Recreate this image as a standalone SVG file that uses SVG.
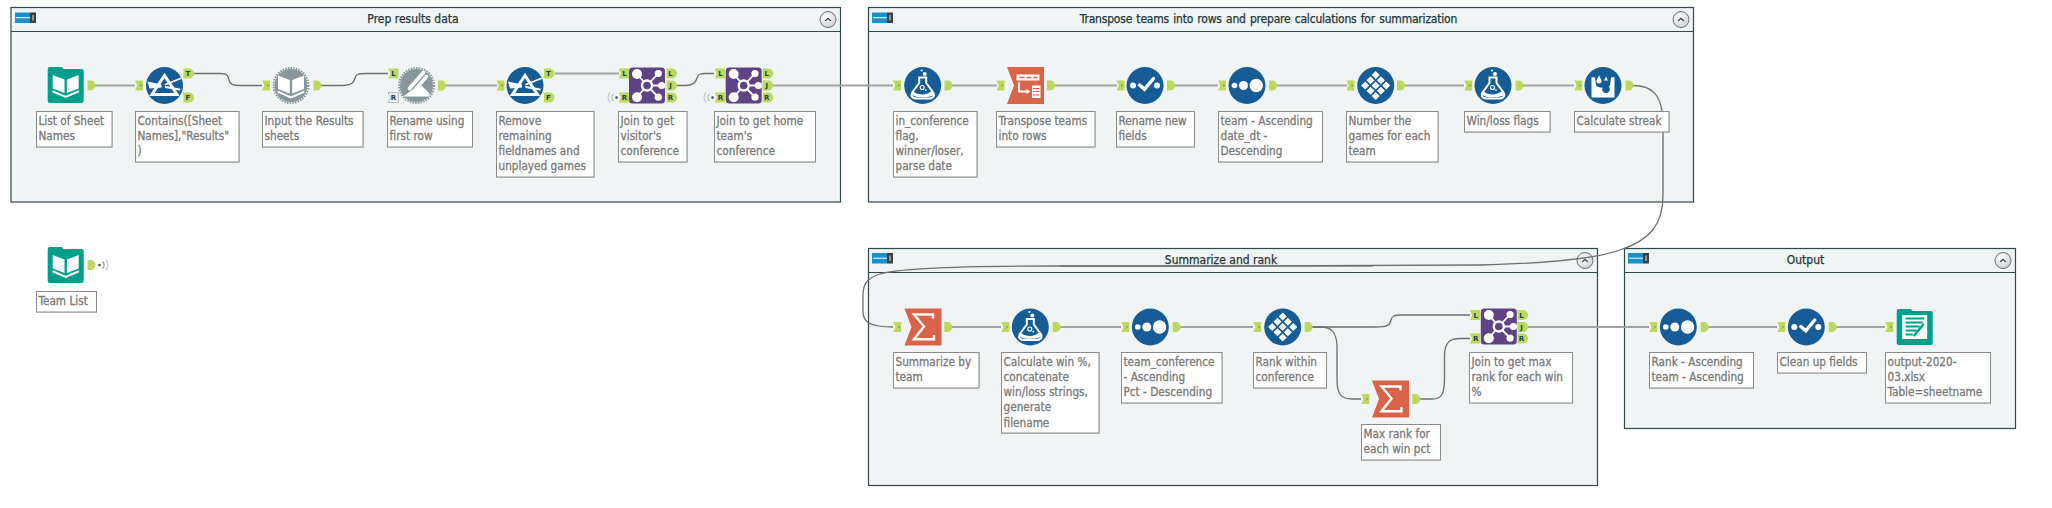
<svg xmlns="http://www.w3.org/2000/svg" xmlns:xlink="http://www.w3.org/1999/xlink" width="2052" height="508" viewBox="0 0 2052 508">
<style>
.c{fill:#f1f4f5;stroke:#2f4a4c;stroke-width:1.2}
.h{stroke:#2f4a4c;stroke-width:1.2;fill:none}
.ct{font-family:"DejaVu Sans Condensed","DejaVu Sans",sans-serif;font-stretch:condensed;font-size:12px;fill:#22363b;stroke:#22363b;stroke-width:.25;text-anchor:middle}
.b{fill:#fff;stroke:#8a8a8a;stroke-width:1;filter:drop-shadow(.6px .8px 0 #b5b5b5)}
.t{font-family:"DejaVu Sans Condensed","DejaVu Sans",sans-serif;font-stretch:condensed;font-size:11.7px;fill:#7a7a7a;stroke:#7a7a7a;stroke-width:.3}
.s{fill:none;stroke:#a3a3a3;stroke-width:2}
.k{fill:none;stroke:#6e6e6e;stroke-width:1.3}
.g{fill:#bbd95f}
.l{font:700 7px "DejaVu Sans",sans-serif;fill:#23404a;text-anchor:middle}
.w{fill:#fff}
.wl{fill:none;stroke:#fff;stroke-linecap:round}
</style>
<defs>
<radialGradient id="btn" cx=".4" cy=".35" r=".8"><stop offset="0" stop-color="#fff"/><stop offset="1" stop-color="#c6c8cb"/></radialGradient>
<g id="hdr"><rect width="15" height="10.5" fill="#1b8fc9"/><rect x="15" width="6" height="10.5" fill="#3d3f42"/><path d="M1,5.2H15" stroke="#fff" fill="none"/><path d="M18,2.5V8" stroke="#aaa" stroke-width="1.6" fill="none"/></g>
<g id="col"><circle r="8" fill="url(#btn)" stroke="#6b6f72"/><path d="M-3.5,1.2L0,-2L3.5,1.2L2.2,1.8L0,-.2L-2.2,1.8Z" fill="#33444a"/></g>
<g id="ai"><path class="g" d="M0,-5H8V5H0L2.2,0Z"/><path d="M5,-1.6L7.2,0L5,1.6Z" fill="#8d9e5a"/></g>
<g id="ao"><path class="g" d="M0,-5H4.5Q8,-3 8,0Q8,3 4.5,5H0Z"/></g>
<path id="li" class="g" d="M0,-5H10.5V5H0L2.5,0Z"/>
<path id="lo" class="g" d="M0,-5H7Q10.5,-3 10.5,0Q10.5,3 7,5H0Z"/>
<g id="wl"><path d="M-6.5,-5A8,8 0 0 0 -6.5,5" fill="none" stroke="#c4cccc" stroke-width="1.4"/><path d="M-3.2,-3.4A5,5 0 0 0 -3.2,3.4" fill="none" stroke="#aab4b4" stroke-width="1.2"/><circle r="1.2" fill="#33444a"/></g>
<g id="wr"><path d="M6.5,-5A8,8 0 0 1 6.5,5" fill="none" stroke="#c4cccc" stroke-width="1.4"/><path d="M3.2,-3.4A5,5 0 0 1 3.2,3.4" fill="none" stroke="#7f8c8c" stroke-width="1.2"/><circle r="1.2" fill="#33444a"/></g>
<path id="folder" fill="#009f8b" d="M-18,-16Q-18,-18 -16,-18H-4L-2,-16H16Q18,-16 18,-14V16Q18,18 16,18H-16Q-18,18 -18,16Z"/>
<g id="open"><path class="w" d="M-13,-10L-1.2,-5.5V8L-13,3.5Z"/><path class="w" d="M13,-10L1.2,-5.5V8L13,3.5Z"/><path class="wl" stroke-width="2" d="M-12.5,6.5L0,12L12.5,6.5"/></g>
<g id="book"><use href="#folder"/><use href="#open"/></g>
<g id="gear"><circle r="16.5" fill="#87979b"/><circle r="17.4" fill="none" stroke="#87979b" stroke-width="2.2" stroke-dasharray="1.5 1.2"/></g>
<g id="filter"><circle r="18.5" fill="#165c96"/><path d="M0,-10L12.5,9H-12.5Z" fill="none" stroke="#fff" stroke-width="3"/><path class="w" d="M-17,-4L-3,-1L-3,2L-15,3Z"/><path class="wl" stroke-width="1.8" d="M1,-1L16,-7M1,1.5L15,4"/></g>
<g id="input"><use href="#gear"/><use href="#open"/></g>
<g id="rename"><use href="#gear"/><path class="wl" stroke-width="3.6" d="M-7,3L7,-13M-2,5L10,-9"/><path class="w" d="M-12,10L-4,4C0,5 3,2 5,0L13,8V11H-12Z"/></g>
<g id="join"><rect x="-18" y="-18" width="36" height="36" rx="3.5" fill="#5f4385"/><path class="wl" stroke-width="1.8" d="M-10,-11.5L0,0M11.3,-12L0,0M14.7,0H0M11.3,11.7L0,0M-10,11.7L0,0"/><circle r="5" fill="#5f4385" stroke="#fff" stroke-width="2.4"/><circle class="w" cx="-10" cy="-11.5" r="5"/><circle class="w" cx="-10" cy="11.7" r="5"/><circle class="w" cx="11.3" cy="-12" r="3.6"/><circle class="w" cx="14.7" r="3.6"/><circle class="w" cx="11.3" cy="11.7" r="3.6"/></g>
<g id="formula"><circle r="18.5" fill="#165c96"/><circle class="w" cx="-1" cy="-15" r="1.1"/><circle class="w" cx="2" cy="-11.5" r="2"/><path fill="none" stroke="#fff" stroke-width="2" d="M-3.5,-8H3.5V-2.5L10.5,7C12.5,11 10,13 6,13H-6C-10,13 -12.5,11 -10.5,7L-3.5,-2.5Z"/><path class="w" d="M-9.5,6C-4,10 4,10 9.5,5L11,9C9,12.5 -8,13 -10.5,9Z"/><circle cx="-.5" cy="2" r="2" fill="none" stroke="#fff" stroke-width="1.1"/><circle class="w" cx="3" cy="4.6" r=".9"/></g>
<path id="chev" fill="#d9644a" d="M-18.5,-18.5H18.5V18.5H-18.5L-11.5,0Z"/>
<g id="transpose"><use href="#chev"/><rect class="w" x="-9" y="-11" width="23" height="6"/><path d="M-6,-8H-1M1,-8H6M8,-8H12" stroke="#d9644a" stroke-width="1.5" fill="none"/><path class="wl" stroke-width="1.8" d="M-6.5,-2.5V6H2"/><path class="w" d="M1,3.5L5,6L1,8.5Z"/><rect class="w" x="6.5" y="0" width="8.5" height="12.5"/><path d="M7.5,3H14M7.5,6H14M7.5,9.5H14" stroke="#d9644a" stroke-width="1.2" fill="none"/></g>
<g id="select"><circle r="18.5" fill="#165c96"/><circle class="w" cx="-12" r="3"/><circle class="w" cx="12" r="3"/><path class="wl" stroke-width="3.4" d="M-5.5,-.5L-.5,3.8L8.5,-7"/></g>
<g id="sort"><circle r="18.5" fill="#165c96"/><circle class="w" cx="-12.5" r="2.8"/><circle class="w" cx="-3.5" r="4.5"/><circle class="w" cx="9.3" r="6.7"/></g>
<g id="record"><circle r="18.5" fill="#165c96"/><path class="w" d="M0,-14.5L4,-10.5L0,-6.5L-4,-10.5ZM-5.2,-9.3L-1.2,-5.3L-5.2,-1.3L-9.2,-5.3ZM5.2,-9.3L9.2,-5.3L5.2,-1.3L1.2,-5.3ZM-10.5,-4L-6.5,0L-10.5,4L-14.5,0ZM0,-4L4,0L0,4L-4,0ZM10.5,-4L14.5,0L10.5,4L6.5,0ZM-5.2,1.3L-1.2,5.3L-5.2,9.3L-9.2,5.3ZM5.2,1.3L9.2,5.3L5.2,9.3L1.2,5.3ZM0,6.5L4,10.5L0,14.5L-4,10.5Z"/></g>
<g id="multi"><circle r="18.5" fill="#165c96"/><path class="w" d="M-11.5,-8.5L-8,-8L-7,0C-4,3 4,3 7,0L8,-8L11.5,-8.5V12H-11.5Z"/><path class="w" d="M-4,-10L-1.6,-5.5A2.6,2.6 0 1 1 -6.4,-5.5Z"/><path fill="#165c96" d="M3,-5L6.5,2A3.9,3.9 0 1 1 -.5,2Z"/><path class="w" d="M3,-9L5,-5H1Z"/></g>
<g id="sum"><use href="#chev"/><path fill="none" stroke="#fff" stroke-width="2.4" stroke-miterlimit="8" d="M10,-8.5V-12.5H-9L1,-.5L-9,12.3H11V8"/></g>
<g id="output"><use href="#folder"/><rect class="w" x="-12.5" y="-12" width="25" height="24"/><path d="M-9,-8.5H9.5M-9,-4.5H8M-9,-.5H5M-9,3.5H2M-9,7.5H-2" stroke="#009f8b" stroke-width="2" fill="none"/><path d="M-1,9L9,-3" stroke="#009f8b" stroke-width="2.4" fill="none"/></g>
</defs>
<rect width="2052" height="508" fill="#fff"/>

<g id="container-prep">
<rect class="c" x="11" y="7.5" width="829.5" height="194.5"/><path class="h" d="M11,31.5H840.5"/>
<use href="#hdr" x="15" y="12.5"/><use href="#col" x="828" y="19.5"/>
<text class="ct" x="413" y="23">Prep results data</text>
</g>
<g id="container-transpose">
<rect class="c" x="868.5" y="7.5" width="825" height="194.5"/><path class="h" d="M868.5,31.5H1693.5"/>
<use href="#hdr" x="872" y="12.5"/><use href="#col" x="1681" y="19.5"/>
<text class="ct" x="1268.5" y="23" word-spacing="1" letter-spacing="-.2">Transpose teams into rows and prepare calculations for summarization</text>
</g>
<g id="container-summarize">
<rect class="c" x="868.5" y="248.5" width="729" height="237"/><path class="h" d="M868.5,272.5H1597.5"/>
<use href="#hdr" x="872" y="253"/><use href="#col" x="1585" y="260.5"/>
<text class="ct" x="1221" y="264">Summarize and rank</text>
</g>
<g id="container-output">
<rect class="c" x="1624.5" y="248.5" width="391" height="180"/><path class="h" d="M1624.5,272.5H2015.5"/>
<use href="#hdr" x="1628" y="253"/><use href="#col" x="2003" y="260.5"/>
<text class="ct" x="1805.5" y="264">Output</text>
</g>

<g id="connectors">
<path class="s" d="M95,85.5H135M446,85.5H497M555,73.5H619M773,85.5H893M952,85.5H997M1055,85.5H1117M1175,85.5H1218M1277,85.5H1347M1405,85.5H1464M1523,85.5H1574"/>
<path class="s" d="M952,327H1001M1060,327H1121M1180,327H1253M1528,327H1649M1708,327H1777M1836,327H1885M1060,266H1373"/>
<path class="k" d="M194,73.5H220C228,73.5 228,76 229,80C230,85 234,85.5 240,85.5H262"/>
<path class="k" d="M321,85.5H342C352,85.5 354,82 355,78C356,74 358,73.5 366,73.5H388"/>
<path class="k" d="M677,85.5H686C694,85.5 696,82 697,78C698,74 700,73.5 706,73.5H714"/>
<path class="k" d="M1633,85.5C1650,85.5 1663,92 1663,125V195C1663,225 1650,240 1620,250C1600,257 1560,263 1480,265L1240,266H1060C980,266 900,268 880,274C868,278 863,283 863,295V312C863,322 870,327 893,327"/>
<path class="k" d="M1312,327H1375C1388,327 1390,325 1391,320C1392,316 1394,315 1402,315H1470"/>
<path class="k" d="M1312,327H1320C1332,327 1336,332 1337,345V380C1337,395 1342,399 1352,399H1361"/>
<path class="k" d="M1420,399H1432C1442,399 1444,394 1444.5,380V355C1445,342 1450,338.5 1460,338.5H1470"/>
</g>

<g id="node-list-of-sheet-names"><use href="#book" x="65.7" y="85"/><use href="#ao" x="87.5" y="85.5"/>
<rect class="b" x="36.5" y="111.5" width="75.5" height="35.5"/><text class="t" x="38.5" y="125">List of Sheet<tspan x="38.5" y="140">Names</tspan></text></g>
<g id="node-contains"><use href="#filter" x="164.5" y="85.5"/><use href="#ai" x="135" y="85.5"/>
<use href="#lo" x="183.5" y="73.5"/><text class="l" x="188" y="76">T</text><use href="#lo" x="183.5" y="97.5"/><text class="l" x="188" y="100">F</text>
<rect class="b" x="135.5" y="111.5" width="103.5" height="50.5"/><text class="t" x="137.5" y="125">Contains([Sheet<tspan x="137.5" y="140">Names],"Results"</tspan><tspan x="137.5" y="155">)</tspan></text></g>
<g id="node-input-results"><use href="#input" x="291" y="85.5"/><use href="#ai" x="262" y="85.5"/><use href="#ao" x="313.5" y="85.5"/>
<rect class="b" x="262.5" y="111.5" width="100.5" height="35.5"/><text class="t" x="264.5" y="125">Input the Results<tspan x="264.5" y="140">sheets</tspan></text></g>
<g id="node-rename"><use href="#rename" x="416.5" y="85.5"/><use href="#li" x="388" y="73.5"/><text class="l" x="393.5" y="76">L</text>
<path d="M388,92.5H398.5V102.5H388L390.5,97.5Z" fill="#eef0f0" stroke="#9aa0a0" stroke-width=".6"/><text class="l" x="393.5" y="100">R</text><use href="#ao" x="438" y="85.5"/>
<rect class="b" x="387.5" y="111.5" width="85" height="35.5"/><text class="t" x="389.5" y="125">Rename using<tspan x="389.5" y="140">first row</tspan></text></g>
<g id="node-remove"><use href="#filter" x="525" y="85.5"/><use href="#ai" x="496.5" y="85.5"/>
<use href="#lo" x="544" y="73.5"/><text class="l" x="548.5" y="76">T</text><use href="#lo" x="544" y="97.5"/><text class="l" x="548.5" y="100">F</text>
<rect class="b" x="496.5" y="111.5" width="97.5" height="65.5"/><text class="t" x="498.5" y="125">Remove<tspan x="498.5" y="140">remaining</tspan><tspan x="498.5" y="155">fieldnames and</tspan><tspan x="498.5" y="170">unplayed games</tspan></text></g>
<g id="node-join-visitor"><use href="#join" x="647" y="85.5"/><use href="#li" x="618.5" y="73.5"/><text class="l" x="624.5" y="76">L</text><use href="#li" x="618.5" y="97.5"/><text class="l" x="624.5" y="100">R</text><use href="#wl" x="616.5" y="97.5"/>
<use href="#lo" x="666.5" y="73.5"/><text class="l" x="670.5" y="76">L</text><use href="#lo" x="666.5" y="85.5"/><text class="l" x="670.5" y="88">J</text><use href="#lo" x="666.5" y="97.5"/><text class="l" x="670.5" y="100">R</text>
<rect class="b" x="618.5" y="111.5" width="68.5" height="50.5"/><text class="t" x="620.5" y="125">Join to get<tspan x="620.5" y="140">visitor's</tspan><tspan x="620.5" y="155">conference</tspan></text></g>
<g id="node-join-home"><use href="#join" x="743.7" y="85.5"/><use href="#li" x="714.5" y="73.5"/><text class="l" x="720.5" y="76">L</text><use href="#li" x="714.5" y="97.5"/><text class="l" x="720.5" y="100">R</text><use href="#wl" x="712.5" y="97.5"/>
<use href="#lo" x="762.7" y="73.5"/><text class="l" x="766.7" y="76">L</text><use href="#lo" x="762.7" y="85.5"/><text class="l" x="766.7" y="88">J</text><use href="#lo" x="762.7" y="97.5"/><text class="l" x="766.7" y="100">R</text>
<rect class="b" x="714.5" y="111.5" width="101" height="50.5"/><text class="t" x="716.5" y="125">Join to get home<tspan x="716.5" y="140">team's</tspan><tspan x="716.5" y="155">conference</tspan></text></g>
<g id="node-in-conference"><use href="#formula" x="922.7" y="85.5"/><use href="#ai" x="893" y="85.5"/><use href="#ao" x="944.5" y="85.5"/>
<rect class="b" x="893.5" y="111.5" width="83.5" height="65.5"/><text class="t" x="895.5" y="125">in_conference<tspan x="895.5" y="140">flag,</tspan><tspan x="895.5" y="155">winner/loser,</tspan><tspan x="895.5" y="170">parse date</tspan></text></g>
<g id="node-transpose"><use href="#transpose" x="1025.5" y="85.5"/><use href="#ai" x="996.5" y="85.5"/><use href="#ao" x="1047" y="85.5"/>
<rect class="b" x="996.5" y="111.5" width="98.5" height="35.5"/><text class="t" x="998.5" y="125">Transpose teams<tspan x="998.5" y="140">into rows</tspan></text></g>
<g id="node-rename-fields"><use href="#select" x="1145" y="85.5"/><use href="#ai" x="1116.5" y="85.5"/><use href="#ao" x="1167" y="85.5"/>
<rect class="b" x="1116.5" y="111.5" width="78" height="35.5"/><text class="t" x="1118.5" y="125">Rename new<tspan x="1118.5" y="140">fields</tspan></text></g>
<g id="node-sort-team"><use href="#sort" x="1247" y="85.5"/><use href="#ai" x="1218" y="85.5"/><use href="#ao" x="1269" y="85.5"/>
<rect class="b" x="1218.5" y="111.5" width="104" height="50.5"/><text class="t" x="1220.5" y="125">team - Ascending<tspan x="1220.5" y="140">date_dt -</tspan><tspan x="1220.5" y="155">Descending</tspan></text></g>
<g id="node-number-games"><use href="#record" x="1375.7" y="85.5"/><use href="#ai" x="1346.5" y="85.5"/><use href="#ao" x="1397" y="85.5"/>
<rect class="b" x="1346.5" y="111.5" width="91.5" height="50.5"/><text class="t" x="1348.5" y="125">Number the<tspan x="1348.5" y="140">games for each</tspan><tspan x="1348.5" y="155">team</tspan></text></g>
<g id="node-win-loss"><use href="#formula" x="1493" y="85.5"/><use href="#ai" x="1464.3" y="85.5"/><use href="#ao" x="1515.5" y="85.5"/>
<rect class="b" x="1464.5" y="111.5" width="85.5" height="20.5"/><text class="t" x="1466.5" y="125">Win/loss flags</text></g>
<g id="node-streak"><use href="#multi" x="1603" y="85.5"/><use href="#ai" x="1574.3" y="85.5"/><use href="#ao" x="1625.5" y="85.5"/>
<rect class="b" x="1574.5" y="111.5" width="94.5" height="20.5"/><text class="t" x="1576.5" y="125">Calculate streak</text></g>

<g id="node-team-list"><use href="#book" x="65.7" y="265"/><use href="#ao" x="87.5" y="265"/><use href="#wr" x="99.5" y="265"/>
<rect class="b" x="36.5" y="291.5" width="60" height="20.5"/><text class="t" x="38.5" y="305">Team List</text></g>

<g id="node-summarize-team"><use href="#sum" x="923" y="327"/><use href="#ai" x="893.3" y="327"/><use href="#ao" x="944.3" y="327"/>
<rect class="b" x="893.5" y="352.5" width="85.5" height="35.5"/><text class="t" x="895.5" y="366">Summarize by<tspan x="895.5" y="381">team</tspan></text></g>
<g id="node-calc-win"><use href="#formula" x="1030.3" y="327"/><use href="#ai" x="1001.3" y="327"/><use href="#ao" x="1052.7" y="327"/>
<rect class="b" x="1001.5" y="352.5" width="97.5" height="80.5"/><text class="t" x="1003.5" y="366">Calculate win %,<tspan x="1003.5" y="381">concatenate</tspan><tspan x="1003.5" y="396">win/loss strings,</tspan><tspan x="1003.5" y="411">generate</tspan><tspan x="1003.5" y="427">filename</tspan></text></g>
<g id="node-sort-conference"><use href="#sort" x="1150.3" y="327"/><use href="#ai" x="1121.3" y="327"/><use href="#ao" x="1172.7" y="327"/>
<rect class="b" x="1121.5" y="352.5" width="100.5" height="50.5"/><text class="t" x="1123.5" y="366">team_conference<tspan x="1123.5" y="381">- Ascending</tspan><tspan x="1123.5" y="396">Pct - Descending</tspan></text></g>
<g id="node-rank-conference"><use href="#record" x="1282.7" y="327"/><use href="#ai" x="1253.3" y="327"/><use href="#ao" x="1304.7" y="327"/>
<rect class="b" x="1253.5" y="352.5" width="73" height="35.5"/><text class="t" x="1255.5" y="366">Rank within<tspan x="1255.5" y="381">conference</tspan></text></g>
<g id="node-max-rank"><use href="#sum" x="1390.5" y="399"/><use href="#ai" x="1361.3" y="399"/><use href="#ao" x="1412.3" y="399"/>
<rect class="b" x="1361.5" y="424.5" width="79" height="35.5"/><text class="t" x="1363.5" y="438">Max rank for<tspan x="1363.5" y="453">each win pct</tspan></text></g>
<g id="node-join-max"><use href="#join" x="1498.8" y="326.5"/><use href="#li" x="1469.7" y="315"/><text class="l" x="1475.7" y="317.5">L</text><use href="#li" x="1469.7" y="338.5"/><text class="l" x="1475.7" y="341">R</text>
<use href="#lo" x="1517.5" y="315"/><text class="l" x="1521.5" y="317.5">L</text><use href="#lo" x="1517.5" y="327"/><text class="l" x="1521.5" y="329.5">J</text><use href="#lo" x="1517.5" y="338.5"/><text class="l" x="1521.5" y="341">R</text>
<rect class="b" x="1469.5" y="352.5" width="103" height="50.5"/><text class="t" x="1471.5" y="366">Join to get max<tspan x="1471.5" y="381">rank for each win</tspan><tspan x="1471.5" y="396">%</tspan></text></g>
<g id="node-sort-rank"><use href="#sort" x="1678.3" y="327"/><use href="#ai" x="1649.3" y="327"/><use href="#ao" x="1700.7" y="327"/>
<rect class="b" x="1649.5" y="352.5" width="104" height="35.5"/><text class="t" x="1651.5" y="366">Rank - Ascending<tspan x="1651.5" y="381">team - Ascending</tspan></text></g>
<g id="node-clean-up"><use href="#select" x="1806.3" y="327"/><use href="#ai" x="1777.3" y="327"/><use href="#ao" x="1828.7" y="327"/>
<rect class="b" x="1777.5" y="352.5" width="89" height="20.5"/><text class="t" x="1779.5" y="366">Clean up fields</text></g>
<g id="node-output"><use href="#output" x="1914.7" y="327"/><use href="#ai" x="1885.3" y="327"/>
<rect class="b" x="1885.5" y="352.5" width="105" height="50.5"/><text class="t" x="1887.5" y="366">output-2020-<tspan x="1887.5" y="381">03.xlsx</tspan><tspan x="1887.5" y="396">Table=sheetname</tspan></text></g>
</svg>
